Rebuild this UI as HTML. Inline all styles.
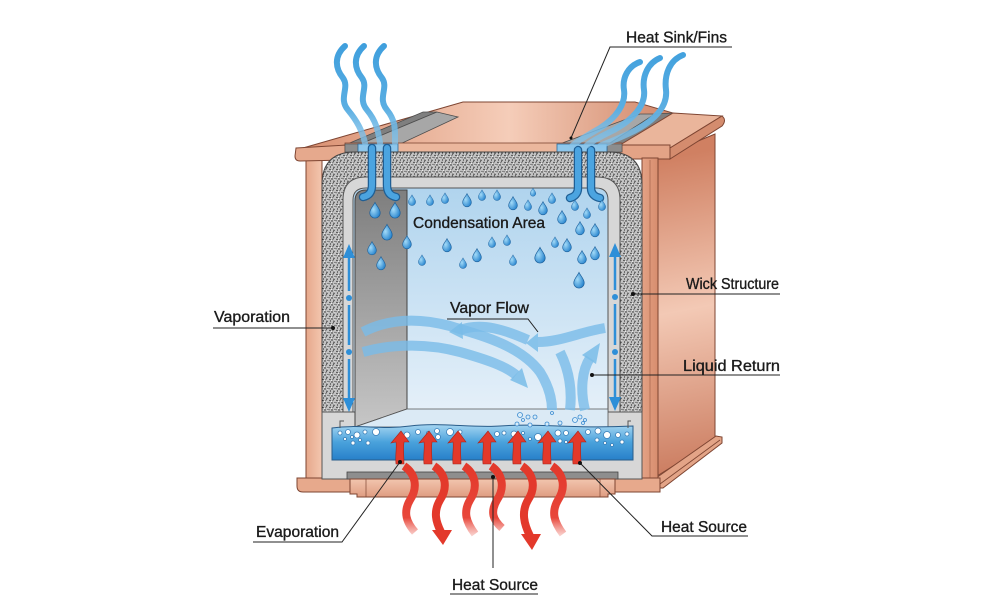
<!DOCTYPE html>
<html><head><meta charset="utf-8"><style>
html,body{margin:0;padding:0;background:#fff;}
svg{display:block;}
text{font-family:"Liberation Sans",Arial,sans-serif;font-size:15.5px;fill:#1b1b1b;stroke:#1b1b1b;stroke-width:0.35;}
</style></head><body>
<svg width="1000" height="600" viewBox="0 0 1000 600" xmlns="http://www.w3.org/2000/svg">
<defs>
 <linearGradient id="side" x1="657" y1="160" x2="715" y2="460" gradientUnits="userSpaceOnUse">
  <stop offset="0" stop-color="#d08062"/><stop offset="0.5" stop-color="#f3c9b5"/><stop offset="1" stop-color="#cd8064"/>
 </linearGradient>
 <linearGradient id="lid" x1="300" y1="0" x2="680" y2="0" gradientUnits="userSpaceOnUse">
  <stop offset="0" stop-color="#d98f70"/><stop offset="0.55" stop-color="#f5cdb9"/><stop offset="1" stop-color="#cf8466"/>
 </linearGradient>
 <linearGradient id="wallL" x1="306" y1="0" x2="322" y2="0" gradientUnits="userSpaceOnUse">
  <stop offset="0" stop-color="#e6a88b"/><stop offset="1" stop-color="#f3c6af"/>
 </linearGradient>
 <linearGradient id="wallR" x1="642" y1="0" x2="658" y2="0" gradientUnits="userSpaceOnUse">
  <stop offset="0" stop-color="#e4a285"/><stop offset="1" stop-color="#d78d6e"/>
 </linearGradient>
 <linearGradient id="chamber" x1="0" y1="188" x2="0" y2="412" gradientUnits="userSpaceOnUse">
  <stop offset="0" stop-color="#b0d4ee"/><stop offset="1" stop-color="#e5f0f9"/>
 </linearGradient>
 <linearGradient id="back" x1="0" y1="190" x2="0" y2="427" gradientUnits="userSpaceOnUse">
  <stop offset="0" stop-color="#7e7e7e"/><stop offset="1" stop-color="#c6c6c6"/>
 </linearGradient>
 <linearGradient id="water" x1="0" y1="424" x2="0" y2="460" gradientUnits="userSpaceOnUse">
  <stop offset="0" stop-color="#a9d7f2"/><stop offset="0.5" stop-color="#4aa2dc"/><stop offset="1" stop-color="#2780c9"/>
 </linearGradient>
 <radialGradient id="dropg" cx="0.35" cy="0.45" r="0.7">
  <stop offset="0" stop-color="#a3dbf8"/><stop offset="1" stop-color="#1f7ecb"/>
 </radialGradient>
 <linearGradient id="redfade" x1="0" y1="466" x2="0" y2="540" gradientUnits="userSpaceOnUse">
  <stop offset="0" stop-color="#e3392b"/><stop offset="0.7" stop-color="#e8463a"/><stop offset="1" stop-color="#f08a80" stop-opacity="0.2"/>
 </linearGradient>
 <linearGradient id="bluefade" x1="0" y1="45" x2="0" y2="150" gradientUnits="userSpaceOnUse">
  <stop offset="0" stop-color="#3f9fdd"/><stop offset="0.6" stop-color="#5aaee2"/><stop offset="1" stop-color="#8cc7ec" stop-opacity="0.7"/>
 </linearGradient>
 <linearGradient id="tile" x1="0" y1="479" x2="0" y2="496" gradientUnits="userSpaceOnUse">
  <stop offset="0" stop-color="#f2c5ae"/><stop offset="1" stop-color="#e09f84"/>
 </linearGradient>
 <pattern id="speck" width="7" height="7" patternUnits="userSpaceOnUse">
  <rect width="7" height="7" fill="#c4c4c4"/>
  <circle cx="1" cy="1.5" r="0.7" fill="#222"/>
  <circle cx="4.5" cy="0.8" r="0.6" fill="#333"/>
  <circle cx="3" cy="4" r="0.7" fill="#1a1a1a"/>
  <circle cx="6" cy="3.5" r="0.6" fill="#444"/>
  <circle cx="1.5" cy="6" r="0.6" fill="#2a2a2a"/>
  <circle cx="5" cy="6.2" r="0.7" fill="#222"/>
  <circle cx="3.5" cy="1.8" r="0.45" fill="#333"/>
  <circle cx="0.3" cy="3.8" r="0.45" fill="#333"/>
  <circle cx="2.5" cy="2.5" r="0.45" fill="#fff"/>
  <circle cx="5.5" cy="5" r="0.45" fill="#fff"/>
 </pattern>
 <path id="drop" d="M0,-8 C1.5,-4.5 5.5,-1 5.5,3 A5.5,5.5 0 0 1 -5.5,3 C-5.5,-1 -1.5,-4.5 0,-8 Z" fill="url(#dropg)" stroke="#1d5f99" stroke-width="0.7"/>
</defs>

<rect width="1000" height="600" fill="#fff"/>

<!-- right side face -->
<path d="M657,158 L715,134 L715,440 L657,476 Z" fill="url(#side)" stroke="#7e4532" stroke-width="1"/>
<!-- right bottom flange -->
<path d="M656,478 L716,436 L722,437 L722,443 L663,488 L656,488 Z" fill="#e3a487" stroke="#7e4532" stroke-width="1"/>
<line x1="660" y1="484" x2="720" y2="440" stroke="#7e4532" stroke-width="0.8"/>

<!-- lid top -->
<path d="M296,150 L463,102 L635,102 L673,113 L622,145 L347,145 Z" fill="url(#lid)" stroke="#7e4532" stroke-width="1"/>
<!-- fin strips -->
<path d="M345,145 L423,112 L437,112 L358,145 Z" fill="#7f7f7f" stroke="#4d4d4d" stroke-width="0.8"/>
<path d="M358,145 L437,112 L458,117 L398,145 Z" fill="#a7a7a7" stroke="#4d4d4d" stroke-width="0.8"/>
<path d="M557,145 L640,114 L655,114 L607,145 Z" fill="#a7a7a7" stroke="#4d4d4d" stroke-width="0.8"/>
<path d="M607,145 L655,114 L673,113 L622,145 Z" fill="#7f7f7f" stroke="#4d4d4d" stroke-width="0.8"/>

<!-- right flange -->
<path d="M620,145 L673,113 L722,116 L670,148 Z" fill="#eab59b" stroke="#7e4532" stroke-width="1"/>
<path d="M670,148 L722,116 Q727,120 722,126 L670,159 Z" fill="#d48c6e" stroke="#7e4532" stroke-width="1"/>
<rect x="620" y="145" width="50" height="14" fill="#e3a386" stroke="#7e4532" stroke-width="1"/>

<!-- walls -->
<rect x="306" y="158" width="16" height="322" fill="url(#wallL)" stroke="#7e4532" stroke-width="1"/>
<rect x="642" y="158" width="16" height="322" fill="url(#wallR)" stroke="#7e4532" stroke-width="1"/>
<line x1="650" y1="160" x2="650" y2="478" stroke="#9a5a42" stroke-width="0.6"/>

<!-- left flange -->
<path d="M296,148 L347,145 L347,160 L300,161 Q295,161 295,156 Z" fill="#e6a98d" stroke="#7e4532" stroke-width="1"/>

<!-- bottom copper frame -->
<path d="M297,478 L660,478 L660,492 L303,492 Q297,492 297,486 Z" fill="#e7a98c" stroke="#7e4532" stroke-width="1"/>

<!-- lid front strip and pads -->
<rect x="345" y="143" width="277" height="9" fill="#ebb79d" stroke="#7e4532" stroke-width="0.8"/>
<rect x="345" y="144" width="13" height="8" fill="#8d8d8d" stroke="#4d4d4d" stroke-width="0.6"/>
<rect x="358" y="144" width="40" height="8" fill="#8ec7ec" stroke="#2a6a9a" stroke-width="0.8"/>
<rect x="607" y="144" width="15" height="8" fill="#8d8d8d" stroke="#4d4d4d" stroke-width="0.6"/>
<rect x="557" y="144" width="50" height="8" fill="#8ec7ec" stroke="#2a6a9a" stroke-width="0.8"/>

<!-- wick -->
<path d="M322,412 L322,185 Q322,152 355,152 L609,152 Q642,152 642,185 L642,412 Z" fill="url(#speck)" stroke="#444" stroke-width="1"/>
<!-- liner -->
<path d="M343,412 L343,200 Q343,177 366,177 L597,177 Q620,177 620,200 L620,412 Z" fill="#d7d7d7" stroke="#555" stroke-width="1"/>
<rect x="322" y="412" width="320" height="67" fill="#d7d7d7" stroke="#555" stroke-width="1"/>
<!-- chamber -->
<path d="M353,412 L353,200 Q353,188 366,188 L596,188 Q608,188 608,200 L608,412 Z" fill="url(#chamber)" stroke="#555" stroke-width="1"/>
<!-- back wall -->
<path d="M355,427 L355,201 Q355,190 366,190 L407,190 L407,409 Z" fill="url(#back)" stroke="#444" stroke-width="1"/>
<path d="M355,427 L407,409 L608,409 L608,427 Z" fill="#dbeaf5" stroke="#555" stroke-width="0.8"/>

<!-- water pool -->
<path d="M332,428 C360,424 380,430 410,426 C440,422 470,428 500,426 C540,423 570,429 633,426 L633,460 L332,460 Z" fill="url(#water)" stroke="#2a5d8a" stroke-width="1"/>
<path d="M340,428 L340,421 L344,421 M628,428 L628,421 L631,421" stroke="#555" stroke-width="1" fill="none"/>

<!-- heat source plate -->
<rect x="347" y="472" width="271" height="7" fill="#8e8e8e" stroke="#444" stroke-width="0.8"/>
<path d="M350,479 L615,479 L615,494 L608,494 L608,497 L357,497 L357,494 L350,494 Z" fill="url(#tile)" stroke="#7e4532" stroke-width="1"/>
<line x1="366" y1="479" x2="366" y2="497" stroke="#7e4532" stroke-width="0.7"/>
<line x1="600" y1="479" x2="600" y2="497" stroke="#7e4532" stroke-width="0.7"/>

<!-- bubbles in pool -->
<g fill="#ffffff" stroke="#3a7fb8" stroke-width="0.8">
<circle cx="340" cy="433" r="2"/><circle cx="348" cy="432" r="2.5"/><circle cx="357" cy="435" r="3"/><circle cx="365" cy="432" r="2"/><circle cx="376" cy="432" r="3.5"/><circle cx="345" cy="439" r="1.5"/><circle cx="353" cy="443" r="2"/><circle cx="360" cy="440" r="1.5"/><circle cx="368" cy="443" r="2"/><circle cx="352" cy="437" r="1.5"/>
<circle cx="407" cy="435" r="3"/><circle cx="418" cy="432" r="2.5"/><circle cx="428" cy="433" r="1.5"/><circle cx="437" cy="431" r="2.5"/><circle cx="450" cy="432" r="3.5"/><circle cx="460" cy="432" r="2"/><circle cx="438" cy="437" r="2.5"/>
<circle cx="497" cy="434" r="2.5"/><circle cx="504" cy="433" r="2"/><circle cx="514" cy="434" r="3"/><circle cx="523" cy="433" r="1.5"/><circle cx="530" cy="439" r="1.5"/><circle cx="538" cy="437" r="3.5"/><circle cx="558" cy="433" r="3"/><circle cx="566" cy="433" r="2.5"/><circle cx="560" cy="441" r="2"/><circle cx="566" cy="442" r="1.5"/>
<circle cx="588" cy="432" r="2.5"/><circle cx="598" cy="431" r="3"/><circle cx="607" cy="435" r="3.5"/><circle cx="618" cy="435" r="2.5"/><circle cx="627" cy="434" r="2"/><circle cx="597" cy="440" r="2"/><circle cx="605" cy="443" r="1.5"/><circle cx="622" cy="442" r="2"/><circle cx="612" cy="445" r="1.5"/>
</g>

<!-- red up arrows -->
<g fill="#e3392b" stroke="#a8251a" stroke-width="0.6">
<path d="M396,464 C395,455 397,448 396,442 L391,443 L401,431 L409,442 L404,442 C403,450 404,456 404,464 Z"/>
<path d="M424,464 C423,455 425,448 424,442 L419,443 L429,431 L437,442 L432,442 C431,450 432,456 432,464 Z"/>
<path d="M453,464 C452,455 454,448 453,442 L448,443 L458,431 L466,442 L461,442 C460,450 461,456 461,464 Z"/>
<path d="M483,464 C482,455 484,448 483,442 L478,443 L488,431 L496,442 L491,442 C490,450 491,456 491,464 Z"/>
<path d="M513,464 C512,455 514,448 513,442 L508,443 L518,431 L526,442 L521,442 C520,450 521,456 521,464 Z"/>
<path d="M543,464 C542,455 544,448 543,442 L538,443 L548,431 L556,442 L551,442 C550,450 551,456 551,464 Z"/>
<path d="M573,464 C572,455 574,448 573,442 L568,443 L578,431 L586,442 L581,442 C580,450 581,456 581,464 Z"/>
</g>

<!-- red wavy heat -->
<g fill="none" stroke="url(#redfade)" stroke-width="8">
<path d="M404,466 C416,474 418,488 410,500 C403,512 406,522 415,532"/>
<path d="M464,466 C476,474 478,488 470,500 C463,512 466,522 475,534"/>
<path d="M491,466 C503,474 505,488 497,500 C490,512 493,520 502,528"/>
<path d="M552,466 C564,474 566,488 558,500 C551,512 554,522 563,534"/>
</g>
<g fill="none" stroke="#e3392b" stroke-width="8">
<path d="M434,466 C446,474 448,488 440,500 C433,512 436,522 441,532"/>
<path d="M522,466 C534,474 536,488 528,500 C521,512 524,524 530,536"/>
</g>
<path d="M432,530 L452,530 L443,545 Z" fill="#e3392b"/>
<path d="M521,534 L541,534 L532,550 Z" fill="#e3392b"/>

<!-- rising bubbles -->
<g fill="#d8ecf8" stroke="#3a8ad0" stroke-width="0.8">
<circle cx="520" cy="415" r="2.5"/><circle cx="528" cy="417" r="2"/><circle cx="535" cy="417" r="2"/><circle cx="523" cy="420" r="1.5"/><circle cx="530" cy="425" r="2"/><circle cx="517" cy="424" r="2"/><circle cx="547" cy="424" r="2"/><circle cx="552" cy="413" r="1.5"/><circle cx="560" cy="423" r="2"/><circle cx="575" cy="420" r="2.5"/><circle cx="580" cy="417" r="2"/><circle cx="583" cy="423" r="1.5"/><circle cx="585" cy="420" r="1.5"/>
</g>

<!-- vapor flow bands -->
<g fill="none" stroke="#79bce8" stroke-width="10" stroke-opacity="0.8">
<path d="M363,332 C390,318 420,318 450,326 C480,335 520,345 540,372 C550,388 552,400 552,410"/>
<path d="M363,352 C395,343 430,344 460,352 C488,360 505,366 516,375"/>
<path d="M605,328 C580,332 560,342 538,342"/>
<path d="M528,340 C505,330 482,322 460,330"/>
<path d="M560,352 C570,372 572,392 570,410"/>
<path d="M585,410 C580,390 582,370 590,358"/>
</g>
<g fill="#79bce8" fill-opacity="0.85">
<path d="M538,333 L526,343 L538,352 Z"/>
<path d="M462,322 L449,332 L463,339 Z"/>
<path d="M510,380 L528,388 L522,368 Z"/>
<path d="M582,355 L600,343 L596,364 Z"/>
</g>

<!-- tubes from pads -->
<g fill="none" stroke-linecap="round">
<g stroke="#1f5f95" stroke-width="8.5">
<path d="M372,148 L372,185 C372,193 368,196 363,197"/>
<path d="M387,148 L387,185 C387,193 391,196 396,197"/>
<path d="M578,150 L578,188 C578,194 574,197 570,198"/>
<path d="M591,150 L591,188 C591,194 595,197 600,198"/>
</g>
<g stroke="#4ba4e0" stroke-width="6">
<path d="M372,148 L372,185 C372,193 368,196 363,197"/>
<path d="M387,148 L387,185 C387,193 391,196 396,197"/>
<path d="M578,150 L578,188 C578,194 574,197 570,198"/>
<path d="M591,150 L591,188 C591,194 595,197 600,198"/>
</g>
</g>

<!-- drops -->
<use href="#drop" transform="translate(375,210) scale(0.95)"/>
<use href="#drop" transform="translate(395,210) scale(0.95)"/>
<use href="#drop" transform="translate(387,232) scale(0.95)"/>
<use href="#drop" transform="translate(372,248) scale(0.8)"/>
<use href="#drop" transform="translate(407,242) scale(0.8)"/>
<use href="#drop" transform="translate(381,263) scale(0.8)"/>
<use href="#drop" transform="translate(412,200) scale(0.65)"/>
<use href="#drop" transform="translate(430,200) scale(0.65)"/>
<use href="#drop" transform="translate(445,198) scale(0.65)"/>
<use href="#drop" transform="translate(467,200) scale(0.8)"/>
<use href="#drop" transform="translate(482,195) scale(0.65)"/>
<use href="#drop" transform="translate(497,195) scale(0.65)"/>
<use href="#drop" transform="translate(513,203) scale(0.8)"/>
<use href="#drop" transform="translate(533,192) scale(0.5)"/>
<use href="#drop" transform="translate(528,205) scale(0.65)"/>
<use href="#drop" transform="translate(543,208) scale(0.8)"/>
<use href="#drop" transform="translate(552,198) scale(0.65)"/>
<use href="#drop" transform="translate(562,217) scale(0.8)"/>
<use href="#drop" transform="translate(575,205) scale(0.65)"/>
<use href="#drop" transform="translate(587,213) scale(0.65)"/>
<use href="#drop" transform="translate(602,205) scale(0.65)"/>
<use href="#drop" transform="translate(580,228) scale(0.8)"/>
<use href="#drop" transform="translate(595,230) scale(0.8)"/>
<use href="#drop" transform="translate(447,245) scale(0.8)"/>
<use href="#drop" transform="translate(492,242) scale(0.65)"/>
<use href="#drop" transform="translate(507,240) scale(0.65)"/>
<use href="#drop" transform="translate(540,255) scale(0.95)"/>
<use href="#drop" transform="translate(555,242) scale(0.65)"/>
<use href="#drop" transform="translate(567,245) scale(0.8)"/>
<use href="#drop" transform="translate(595,253) scale(0.8)"/>
<use href="#drop" transform="translate(582,257) scale(0.8)"/>
<use href="#drop" transform="translate(422,260) scale(0.65)"/>
<use href="#drop" transform="translate(477,255) scale(0.8)"/>
<use href="#drop" transform="translate(463,263) scale(0.65)"/>
<use href="#drop" transform="translate(513,260) scale(0.65)"/>
<use href="#drop" transform="translate(579,280) scale(0.95)"/>

<!-- dashed arrows -->
<g stroke="#2e8fd8" stroke-width="2.5">
<line x1="349" y1="257" x2="349" y2="291"/><line x1="349" y1="305" x2="349" y2="345"/><line x1="349" y1="359" x2="349" y2="399"/>
<line x1="615" y1="256" x2="615" y2="290"/><line x1="615" y1="304" x2="615" y2="345"/><line x1="615" y1="359" x2="615" y2="398"/>
</g>
<g fill="#2e8fd8">
<path d="M343,258 L349,244 L355,258 Z"/><path d="M343,398 L349,412 L355,398 Z"/>
<circle cx="349" cy="298" r="3"/><circle cx="349" cy="352" r="3"/>
<path d="M609,257 L615,243 L621,257 Z"/><path d="M609,397 L615,411 L621,397 Z"/>
<circle cx="615" cy="297" r="3"/><circle cx="615" cy="352" r="3"/>
</g>

<!-- top heat waves -->
<g fill="none" stroke="url(#bluefade)" stroke-width="6" stroke-linecap="round">
<path d="M345,46 C334,56 335,68 343,78 C350,88 338,98 348,110 C357,121 362,130 365,143"/>
<path d="M364,46 C353,56 354,68 362,78 C369,88 357,98 367,110 C376,121 378,130 380,143"/>
<path d="M384,46 C373,56 374,68 382,78 C389,88 377,98 387,110 C396,121 395,130 395,143"/>
<path d="M640,62 C628,66 622,78 624,90 C626,104 616,118 600,128 C590,134 580,139 572,146"/>
<path d="M660,58 C648,63 642,76 644,90 C646,106 632,120 614,130 C602,136 592,141 586,146"/>
<path d="M683,55 C670,60 664,74 666,90 C668,108 652,122 632,132 C618,139 606,143 600,146"/>
</g>

<!-- leaders -->
<g fill="none" stroke="#222" stroke-width="1">
<path d="M732,47 L610,47 L571,138"/>
<path d="M780,294 L633,294"/>
<path d="M213,328 L333,328"/>
<path d="M447,319 L528,319 L538,332"/>
<path d="M780,375 L592,375"/>
<path d="M253,542 L342,542 L400,462"/>
<path d="M748,536 L652,536 L580,463"/>
<path d="M450,594 L538,594"/>
<path d="M493,568 L493,477"/>
</g>
<g fill="#111">
<circle cx="571" cy="138" r="1.5"/><circle cx="633" cy="294" r="2"/><circle cx="333" cy="328" r="2"/><circle cx="592" cy="375" r="2"/>
<circle cx="400" cy="462" r="2"/><circle cx="580" cy="463" r="2"/><circle cx="493" cy="477" r="2"/>
</g>

<!-- labels -->
<text x="626" y="42.5" textLength="101" lengthAdjust="spacingAndGlyphs">Heat Sink/Fins</text>
<text x="413" y="228" textLength="132" lengthAdjust="spacingAndGlyphs">Condensation Area</text>
<text x="686" y="289" textLength="93" lengthAdjust="spacingAndGlyphs">Wick Structure</text>
<text x="214" y="322" textLength="76" lengthAdjust="spacingAndGlyphs">Vaporation</text>
<text x="450" y="313" textLength="79" lengthAdjust="spacingAndGlyphs">Vapor Flow</text>
<text x="683" y="371" textLength="97" lengthAdjust="spacingAndGlyphs">Liquid Return</text>
<text x="256" y="537" textLength="83" lengthAdjust="spacingAndGlyphs">Evaporation</text>
<text x="661" y="532" textLength="86" lengthAdjust="spacingAndGlyphs">Heat Source</text>
<text x="452" y="590" textLength="86" lengthAdjust="spacingAndGlyphs">Heat Source</text>
</svg>
</body></html>
